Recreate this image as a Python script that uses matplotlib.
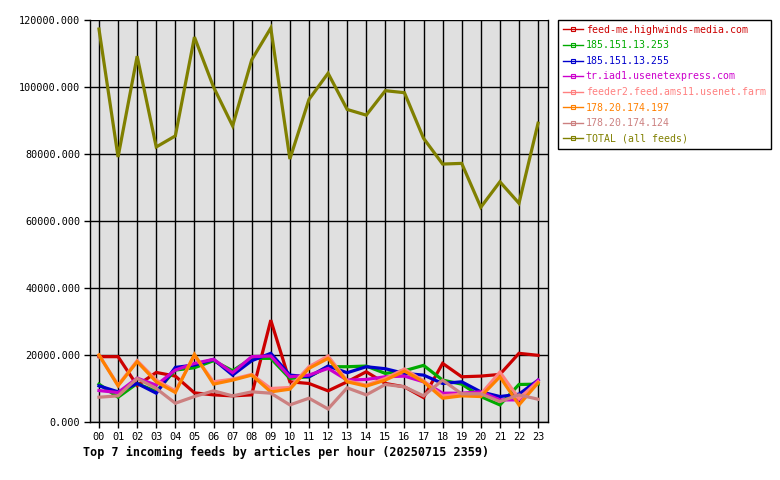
import numpy as np
import matplotlib
matplotlib.use("Agg")
import matplotlib.pyplot as plt
from matplotlib.lines import Line2D

W, H = 780, 480

hours = [f"{h:02d}" for h in range(24)]

feed_names = [
    "feed-me.highwinds-media.com",
    "185.151.13.253",
    "185.151.13.255",
    "tr.iad1.usenetexpress.com",
    "feeder2.feed.ams11.usenet.farm",
    "178.20.174.197",
    "178.20.174.124",
    "TOTAL (all feeds)",
]
feed_colors = ["#cc0000", "#00aa00", "#0000cc", "#cc00cc",
               "#ff8080", "#ff8000", "#cc8080", "#808000"]

highwinds = [19500, 19500, 10900, 14800, 13700, 8700, 8100, 7800, 8100, 30400,
             12000, 11500, 9300, 12000, 15000, 11500, 10500, 7300, 17500, 13500,
             13700, 14200, 20500, 19900]
ip_253 = [11300, 7400, 11500, 9100, 15500, 16200, 18300, 15300, 19000, 19000,
          13000, 13500, 16500, 16500, 16700, 14500, 15300, 16900, 12500, 11300,
          7600, 5100, 11200, 11300]
ip_255 = [10800, 9000, 11500, 8600, 16300, 17000, 18700, 14000, 18300, 20500,
          14000, 13500, 16700, 14700, 16500, 15900, 14500, 14000, 11500, 12000,
          9000, 7600, 8300, 12500]
usenetexpress = [9400, 8800, 13100, 11000, 15500, 17500, 18700, 14700, 19500, 19700,
                 13500, 14000, 16000, 12500, 12700, 13500, 13700, 12000, 8600, 8600,
                 9000, 6600, 6600, 12500]
ams11 = [20000, 11000, 18300, 12500, 9300, 19800, 12000, 12800, 14200, 10000,
         10300, 16500, 19700, 12300, 11000, 13000, 15800, 12300, 7800, 8300,
         8300, 14900, 7000, 12000]
ip_197 = [20000, 10800, 18000, 12000, 8800, 20200, 11300, 12500, 14000, 9000,
          9800, 16000, 19000, 12000, 10700, 12500, 15200, 12000, 7100, 7800,
          7600, 13500, 5100, 11700]
ip_124 = [7400, 7800, 13000, 10000, 5600, 7600, 9300, 7800, 9000, 8600,
          5100, 7100, 3900, 10200, 8100, 11200, 10500, 7800, 12500, 8400,
          8400, 6100, 8100, 6800]
total = [117300, 79100, 109200, 82100, 85400, 114900, 100000, 88400, 108100, 117600,
         78500, 96300, 104100, 93300, 91600, 98900, 98300, 84700, 77000, 77200,
         64100, 71700, 65300, 89200]

series = [highwinds, ip_253, ip_255, usenetexpress, ams11, ip_197, ip_124, total]
y_ticks = [0, 20000, 40000, 60000, 80000, 100000, 120000]

MONO = "DejaVu Sans Mono"

fig = plt.figure(figsize=(W / 100, H / 100), dpi=100)
ax = fig.add_axes([90 / W, (H - 422) / H, 458 / W, 402 / H])
ax.set_facecolor("#e0e0e0")

x = np.arange(len(hours))
for vals, col in zip(series, feed_colors):
    ax.plot(x, vals, color=col, linewidth=2.3, solid_joinstyle="miter", zorder=3)

ax.set_xlim(-0.47, 23.52)
ax.set_ylim(0, 120000)
ax.set_xticks(x)
ax.set_xticklabels(hours, fontfamily=MONO, fontsize=7.4)
ax.set_yticks(y_ticks)
ax.set_yticklabels([f"{v:.3f}" for v in y_ticks], fontfamily=MONO, fontsize=7.3)
ax.grid(True, color="black", linewidth=1.0, zorder=1)
ax.set_axisbelow(True)
ax.tick_params(direction="out", length=4, width=1, color="black", pad=3)
for s in ax.spines.values():
    s.set_linewidth(1.0)
    s.set_color("black")
ax.spines["top"].set_visible(False)

fig.text(83 / W, 1 - 452 / H,
         "Top 7 incoming feeds by articles per hour (20250715 2359)",
         fontfamily=MONO, fontsize=8.45, fontweight="bold", va="center", ha="left")

handles = [Line2D([0], [0], color=c, linewidth=1, marker="s", markersize=2.5,
                  markerfacecolor="none", markeredgecolor=c, markeredgewidth=0.8)
           for c in feed_colors]
leg = fig.legend(handles, feed_names, loc="upper left",
                 bbox_to_anchor=(558 / W, 1 - 20 / H), borderaxespad=0,
                 prop={"family": MONO, "size": 7.1}, labelcolor=feed_colors,
                 fancybox=False, edgecolor="black", framealpha=1,
                 handlelength=2.0, handletextpad=0.3, labelspacing=0.56,
                 borderpad=0.5)
leg.get_frame().set_linewidth(1.0)

fig.savefig("out.png", dpi=100)
